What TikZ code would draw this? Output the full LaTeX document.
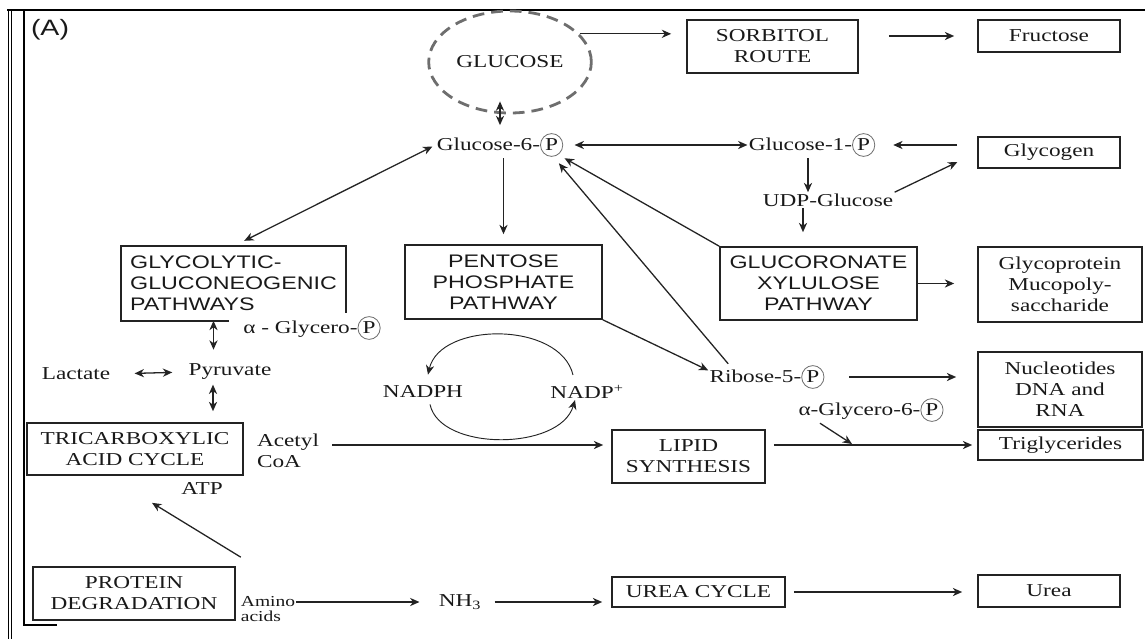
\documentclass[tikz,border=0pt]{standalone}
\usepackage{fontspec}
\setmainfont[FakeStretch=1.28]{Liberation Serif}
\setsansfont[FakeStretch=1.28]{Liberation Sans}
\usepackage{tikz}
\usetikzlibrary{arrows,arrows.meta,shapes,positioning}
\usepackage{xcolor}
\definecolor{mtext}{RGB}{25,25,25}
\definecolor{mline}{RGB}{35,35,35}
\definecolor{mdash}{RGB}{110,110,110}
\tikzstyle{box} = [rectangle, draw=mline, line width=1.4pt, inner sep=0pt, align=center, text=mtext]
\tikzstyle{sansbox} = [box, font=\sffamily\fontsize{15.5}{18}\selectfont]
\tikzstyle{metab} = [inner sep=1pt, text=mtext, align=center]
\tikzstyle{arrow} = [line width=1.1pt, ->, >={Stealth[length=8pt,width=7pt,inset=2.5pt]}, draw=mline]
\tikzstyle{dblarrow} = [arrow, <->]
\tikzstyle{loopline} = [line width=0.8pt, ->, >={Stealth[length=8pt,width=7pt,inset=2.5pt]}, draw=mline]
\newcommand{\circP}{\tikz[baseline=(cp.base)]\node[draw=mdash, ellipse, inner xsep=1.2pt, inner ysep=1.8pt, line width=0.7pt] (cp) {P};}

\begin{document}
\begin{tikzpicture}[x=0.03cm, y=-0.03cm, font=\fontsize{15.5}{18}\selectfont]
\useasboundingbox (0,0) rectangle (1145,639);
% Frame
\draw[line width=1.6pt] (7,10) -- (1145,10);
\draw[line width=0.8pt] (8,10) -- (8,639);
\draw[line width=0.8pt] (11,10) -- (11,639);
\draw[line width=1.6pt] (24,10) -- (24,625) -- (57,625);
\node[font=\sffamily\fontsize{19}{22}\selectfont, text=mtext] (tag) at (50,30) {(A)};

% Top row
\node[ellipse, draw=mdash, line width=2.4pt, dash pattern=on 10pt off 6pt, minimum width=4.62cm, minimum height=3.06cm, text=mtext] (glucose) at (510,62) {GLUCOSE};
\node[box, minimum width=5.13cm, minimum height=1.59cm] (sorbitol) at (772.5,46.5) {SORBITOL\\ROUTE};
\node[box, minimum width=4.26cm, minimum height=0.96cm] (fructose) at (1049,36) {Fructose};
\node[metab] (g6p) at (500,145) {Glucose-6-\circP};
\node[metab] (g1p) at (812,145) {Glucose-1-\circP};
\node[metab] (udp) at (828,200) {UDP-Glucose};
\node[box, minimum width=4.26cm, minimum height=0.93cm] (glycogen) at (1049,152.5) {Glycogen};

% Pathways
\node[sansbox, draw=none, align=left, minimum width=6.69cm, minimum height=2.19cm] (glycolytic) at (233.5,283.5) {GLYCOLYTIC-\\GLUCONEOGENIC\\PATHWAYS};
\draw[line width=1.4pt, mline] ([xshift=3.24cm]glycolytic.south west) -- (glycolytic.south west) -- (glycolytic.north west) -- (glycolytic.north east) -- ([yshift=0.24cm]glycolytic.south east);
\node[sansbox, minimum width=5.91cm, minimum height=2.22cm] (pentose) at (503.5,282) {PENTOSE\\PHOSPHATE\\PATHWAY};
\node[sansbox, minimum width=5.91cm, minimum height=2.19cm] (glucoronate) at (818.5,283.5) {GLUCORONATE\\XYLULOSE\\PATHWAY};
\node[box, minimum width=4.92cm, minimum height=2.25cm] (glycoprotein) at (1060,284.5) {Glycoprotein\\Mucopoly-\\saccharide};

% Middle
\node[metab] (aglyc) at (312,328) {α - Glycero-\circP};
\node[metab] (lactate) at (76,374) {Lactate};
\node[metab] (pyruvate) at (230,372) {Pyruvate};
\node[metab] (nadph) at (423,392) {NADPH};
\node[metab] (nadpp) at (587,392) {NADP\textsuperscript{+}};
\node[metab] (ribose) at (767,377) {Ribose-5-\circP};
\node[box, minimum width=4.92cm, minimum height=2.25cm] (nucleotides) at (1060,389.5) {Nucleotides\\DNA and\\RNA};
\node[metab] (aglyc6) at (871,410) {α-Glycero-6-\circP};
\node[box, minimum width=6.48cm, minimum height=1.56cm] (tca) at (135,449) {TRICARBOXYLIC\\ACID CYCLE};
\node[metab, align=left] (acetyl) at (288,451) {Acetyl\\CoA};
\node[metab] (atp) at (202,488) {ATP};
\node[box, minimum width=4.59cm, minimum height=1.59cm] (lipid) at (688.5,456.5) {LIPID\\SYNTHESIS};
\node[box, minimum width=4.95cm, minimum height=0.9cm] (triglycerides) at (1060.5,445) {Triglycerides};
\coordinate (lipidjoin) at (852,444);

% Bottom row
\node[box, minimum width=6.06cm, minimum height=1.59cm] (protein) at (134,593.5) {PROTEIN\\DEGRADATION};
\node[metab, align=left, font=\fontsize{13}{13}\selectfont] (amino) at (268,609) {Amino\\acids};
\node[metab] (nh3) at (460,602) {NH\textsubscript{3}};
\node[box, minimum width=5.19cm, minimum height=0.9cm] (ureacycle) at (698.5,592) {UREA CYCLE};
\node[box, minimum width=4.26cm, minimum height=0.96cm] (urea) at (1049,591) {Urea};

% Glucose and sorbitol route
\draw[arrow, shorten >=0.45cm] (glucose.22) -- (glucose.22 -| sorbitol.west);
\draw[arrow, shorten <=0.9cm, shorten >=0.69cm] (sorbitol.east |- fructose.west) -- (fructose.west);
\draw[dblarrow, shorten <=-0.39cm, shorten >=0.2cm] (g6p.north |- glucose.south) -- (g6p.north);
\draw[dblarrow, shorten <=0.3cm] (g6p.east) -- (g1p.west);
\draw[arrow, shorten <=0.6cm, shorten >=0.5cm] (glycogen.west |- g1p.east) -- (g1p.east);
\draw[arrow] ([xshift=-0.12cm]g1p.south) -- ([xshift=-0.12cm]g1p.south |- udp.north);
\draw[arrow, shorten >=0.66cm] (udp.north east) -- (glycogen.west);
\draw[arrow, shorten >=0.42cm] ([xshift=-0.75cm]udp.south) -- ([xshift=-0.75cm]udp.south |- glucoronate.north);

% Glucose-6-P branches
\draw[dblarrow, shorten <=0.1cm, shorten >=0.36cm] (g6p.west) -- (glycolytic.north);
\draw[arrow, shorten >=0.3cm] (pentose.north |- g6p.south) -- (pentose.north);
\draw[arrow] (glucoronate.north west) -- (g6p.south east);
\draw[arrow, shorten >=0.2cm] ([xshift=0.6cm]ribose.north west) -- ([xshift=-0.3cm]g6p.south east);
\draw[arrow] (pentose.south east) -- ([yshift=0.2cm]ribose.west);
\draw[arrow, shorten <=0.7cm, shorten >=0.63cm] (ribose.east) -- (ribose.east -| nucleotides.west);
\draw[arrow, shorten >=0.69cm] (glucoronate.east) -- (glucoronate.east -| glycoprotein.west);

% Glycolysis
\draw[dblarrow, shorten >=0.39cm] ([xshift=-0.6cm]glycolytic.south) -- ([xshift=-0.6cm]glycolytic.south |- pyruvate.north);
\draw[dblarrow, shorten <=0.69cm, shorten >=0.45cm] (lactate.east) -- (pyruvate.west);
\draw[dblarrow, shorten <=0.1cm, shorten >=0.33cm] ([xshift=-0.51cm]pyruvate.south) -- ([xshift=-0.51cm]pyruvate.south |- tca.north);

% NADPH cycle
\draw[loopline] ([xshift=-0.42cm, yshift=0.27cm]nadpp.north) .. controls +(-13,-54) and +(12,-53) .. ([xshift=0.15cm, yshift=0.3cm]nadph.north);
\draw[loopline] ([xshift=0.21cm, yshift=-0.15cm]nadph.south) .. controls +(10,47) and +(-15,51) .. ([xshift=-0.36cm]nadpp.south);

% Lipids
\draw[arrow, shorten <=0.36cm, shorten >=0.24cm] (acetyl.east |- triglycerides.west) -- (lipid.west |- triglycerides.west);
\draw[arrow, shorten <=0.24cm, shorten >=0.15cm] (lipid.east |- triglycerides.west) -- (triglycerides.west);
\draw[arrow] ([xshift=-1.53cm]aglyc6.south) -- (lipidjoin);

% Proteins
\draw[arrow] ([xshift=0.15cm, yshift=0.27cm]protein.north east) -- ([xshift=0.51cm, yshift=-0.81cm]tca.south);
\draw[arrow, shorten >=0.54cm] (amino.east |- nh3.west) -- (nh3.west);
\draw[arrow, shorten <=0.36cm, shorten >=0.27cm] (nh3.east) -- (nh3.east -| ureacycle.west);
\draw[arrow, shorten <=0.24cm, shorten >=0.45cm] (ureacycle.east) -- (ureacycle.east -| urea.west);
\end{tikzpicture}
\end{document}
